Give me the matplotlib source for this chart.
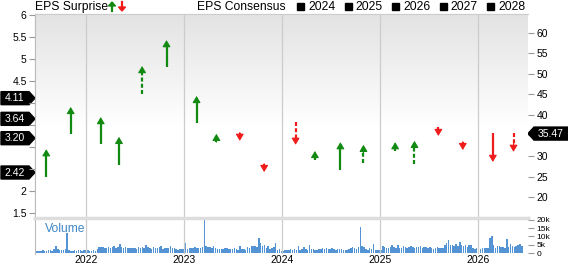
import pandas as pd
import numpy as np
import matplotlib
matplotlib.use('Agg')
import matplotlib.pyplot as plt
from matplotlib.patches import Polygon, Rectangle
from matplotlib.transforms import blended_transform_factory

plt.rcParams['font.family'] = ['Liberation Sans', 'DejaVu Sans']

# quarterly EPS reports: consensus -> actual
report_dates = ['2021-08-05', '2021-11-04', '2022-02-24', '2022-05-03', '2022-07-28',
                '2022-10-27', '2023-02-16', '2023-05-01', '2023-07-27', '2023-10-26',
                '2024-02-20', '2024-05-02', '2024-08-05', '2024-10-30', '2025-02-25',
                '2025-05-08', '2025-08-05', '2025-11-04', '2026-02-24', '2026-05-12']
eps_consensus = [2.32, 3.30, 3.07, 2.59, 4.20, 4.82, 3.55, 3.11, 3.32, 2.61,
                 3.57, 2.70, 2.48, 2.64, 2.91, 2.61, 3.45, 3.11, 3.32, 3.32]
eps_actual = [2.95, 3.91, 3.68, 3.23, 4.84, 5.43, 4.16, 3.30, 3.14, 2.43,
              3.05, 2.91, 3.11, 3.05, 3.11, 3.14, 3.25, 2.93, 2.66, 2.89]
eps_dashed = [0, 0, 0, 0, 1, 0, 0, 0, 0, 0, 1, 0, 0, 1, 0, 1, 0, 0, 0, 1]

# consensus tags (left) and last price tag (right)
consensus_tags = [4.11, 3.64, 3.20, 2.42]
last_price = 35.47
legend_years = ['2024', '2025', '2026', '2027', '2028']

# weekly volume in thousands, half-year chunks
vol_2021_h2 = [1.2, 1.5, 1.0, 1.3, 1.8, 1.4, 1.2, 1.6, 2.0, 1.5, 2.5, 4.0, 2.2,
               1.8, 2.0, 1.6, 2.2, 12.0, 2.0, 1.5, 1.3, 1.8, 1.4, 1.6, 2.0, 1.5]
vol_2022_h1 = [2.0, 1.6, 1.8, 1.2, 1.5, 1.8, 1.3, 2.5, 3.8, 3.5, 3.4, 3.0, 3.2,
               3.8, 3.0, 3.5, 4.5, 3.2, 3.6, 5.5, 3.5, 3.0, 3.8, 3.2, 3.0, 2.8]
vol_2022_h2 = [3.2, 3.0, 2.5, 3.5, 3.0, 3.6, 3.2, 4.8, 3.5, 3.0, 2.6, 3.5, 3.2,
               2.8, 3.6, 4.0, 2.5, 3.0, 3.2, 2.8, 4.0, 3.2, 3.0, 2.4, 2.0, 2.5]
vol_2023_h1 = [2.2, 2.4, 6.0, 2.4, 3.0, 3.2, 2.8, 3.6, 3.0, 2.8, 3.2, 3.4, 20.0,
               4.0, 3.6, 3.4, 3.2, 4.5, 2.8, 2.4, 2.5, 2.4, 2.6, 3.2, 2.8, 2.2]
vol_2023_h2 = [2.4, 2.6, 2.8, 2.4, 2.0, 4.0, 2.2, 2.4, 2.0, 3.5, 3.0, 4.2, 4.5,
               4.0, 3.8, 9.0, 6.0, 4.5, 5.0, 3.0, 4.2, 2.6, 3.0, 3.4, 6.0, 2.0]
vol_2024_h1 = [2.6, 1.5, 1.4, 1.6, 1.8, 2.0, 2.2, 2.0, 2.6, 2.0, 4.5, 2.0, 2.5,
               3.5, 2.2, 2.0, 4.8, 2.4, 2.2, 2.0, 1.8, 2.2, 2.6, 2.8, 2.2, 2.8]
vol_2024_h2 = [2.4, 2.2, 2.8, 2.2, 2.0, 2.4, 2.6, 2.2, 2.0, 1.8, 2.0, 2.4, 3.0,
               3.6, 3.2, 2.6, 3.4, 16.0, 4.2, 3.4, 2.4, 1.8, 2.8, 2.4, 5.2, 1.6]
vol_2025_h1 = [1.6, 1.8, 2.0, 4.0, 3.6, 3.2, 3.0, 3.4, 4.8, 3.4, 3.0, 4.6, 3.0,
               3.2, 4.4, 3.4, 3.0, 3.6, 4.2, 3.4, 3.0, 3.6, 3.4, 4.0, 3.2, 3.6]
vol_2025_h2 = [3.4, 3.0, 3.6, 3.2, 2.6, 3.0, 3.4, 3.2, 3.0, 2.8, 4.6, 5.8, 8.0,
               5.0, 4.8, 4.0, 5.2, 4.0, 6.6, 4.6, 4.2, 5.0, 3.8, 4.8, 5.0, 3.2]
vol_2026_h1 = [2.4, 3.0, 4.6, 2.6, 3.0, 3.0, 3.2, 2.8, 9.0, 10.6, 4.6, 3.2, 4.2,
               4.0, 3.6, 3.6, 3.0, 8.4, 3.6, 5.6, 4.0, 3.6, 4.2, 4.6, 5.6, 4.2]

GREEN = '#128a12'
RED = '#f01c1c'
GRID = '#cccccc'
W, H = 568, 264


def fx(px):
    return px / W


def fy(py):
    return 1 - py / H


volume = (vol_2021_h2 + vol_2022_h1 + vol_2022_h2 + vol_2023_h1 + vol_2023_h2 +
          vol_2024_h1 + vol_2024_h2 + vol_2025_h1 + vol_2025_h2 + vol_2026_h1)
vol_dates = pd.date_range('2021-06-25', periods=len(volume), freq='7D')
dates = pd.to_datetime(report_dates)
xlim = (pd.Timestamp('2021-06-24'), pd.Timestamp('2026-07-05'))
years = pd.to_datetime(['2022-01-01', '2023-01-01', '2024-01-01', '2025-01-01', '2026-01-01'])

fig = plt.figure(figsize=(W / 100, H / 100), dpi=100)
ax = fig.add_axes([fx(35), fy(218), fx(528) - fx(35), fy(14) - fy(218)])
axp = ax.twinx()
axv = fig.add_axes([fx(35), fy(254), fx(528) - fx(35), fy(218) - fy(254)])

# gradient background of the upper panel
grad = np.ones((100, 1, 3))
t = np.clip((np.linspace(1, 0, 100) - 0.45) / 0.55, 0, 1)
grad[:, 0, :] = (1 - 0.11 * t)[:, None]
ax.imshow(grad, extent=[0, 1, 0, 1], transform=ax.transAxes, aspect='auto', zorder=0)

# EPS axis (left); labels under the tags are left empty
ax.set_ylim(1.386, 6.023)
ax.set_yticks([1.5, 2, 2.5, 3, 3.5, 4, 4.5, 5, 5.5, 6])
ax.set_yticklabels(['1.5', '2', '', '', '', '', '4.5', '5', '5.5', '6'])
ax.tick_params(axis='y', length=4, width=0.8, color='#999999', labelsize=7.5, pad=2)
ax.set_xlim(xlim)
ax.set_xticks(years)
ax.tick_params(axis='x', length=0, labelbottom=False)
ax.grid(axis='x', color=GRID, lw=0.9)

# price axis (right), horizontal grid follows it
axp.set_ylim(14.88, 64.63)
axp.set_yticks([20, 25, 30, 35, 40, 45, 50, 55, 60])
axp.set_yticklabels(['20', '25', '30', '', '40', '45', '50', '55', '60'])
axp.tick_params(axis='y', length=4, width=0.8, color='#999999', labelsize=7.5, pad=2)
axp.grid(axis='y', color=GRID, lw=0.9)
axp.set_axisbelow(True)
ax.set_zorder(axp.get_zorder() + 1)
ax.patch.set_visible(False)
axp.text(0.985, 0.93, 'Price ($)', transform=axp.transAxes, ha='right', va='center', fontsize=7)

for a in (ax, axp):
    a.spines['right'].set_visible(False)
    a.spines['top'].set_color(GRID)
    a.spines['left'].set_color('#bbbbbb')
    a.spines['bottom'].set_color('#dddddd')
    a.spines['bottom'].set_linewidth(2.5)

# surprise arrows
for d, c0, c1, dashed in zip(dates, eps_consensus, eps_actual, eps_dashed):
    up = c1 >= c0
    color = GREEN if up else RED
    sign = 1 if up else -1
    ax.plot([d, d], [c0, c1 - sign * 0.06], color=color, lw=1.6,
            ls=(0, (1.8, 1.0)) if dashed else '-', solid_capstyle='butt', zorder=3)
    ax.annotate('', xy=(d, c1), xytext=(0, -sign * 6), textcoords='offset points',
                arrowprops=dict(arrowstyle='-|>,head_length=0.4,head_width=0.24',
                                color=color, lw=0.8, shrinkA=0, shrinkB=0, mutation_scale=10),
                zorder=4)

# volume panel
axv.bar(vol_dates, volume, width=5.5, color='#5594d4', linewidth=0)
axv.set_xlim(xlim)
axv.set_ylim(-0.6, 21.2)
axv.set_xticks(years)
axv.set_xticklabels([str(y.year) for y in years])
axv.tick_params(axis='x', length=0, labelsize=7.5, pad=1)
axv.grid(axis='x', color=GRID, lw=0.9)
axv.yaxis.tick_right()
axv.set_yticks([0, 5, 10, 15, 20])
axv.set_yticklabels(['0', '5k', '10k', '15k', '20k'])
axv.tick_params(axis='y', length=4, width=0.8, color='#999999', labelsize=6, pad=2)
for s in ('top', 'right', 'bottom'):
    axv.spines[s].set_visible(False)
axv.spines['left'].set_color('#bbbbbb')
axv.text(0.02, 0.69, 'Volume', transform=axv.transAxes, ha='left', va='center',
         fontsize=8.7, color='#3f87c6')

# consensus tags on the left
tag_tr = blended_transform_factory(fig.transFigure, ax.transData)
hh = 6.5 * (6.023 - 1.386) / 204
for v in consensus_tags:
    pts = [(fx(1), v - hh), (fx(29), v - hh), (fx(35), v), (fx(29), v + hh), (fx(1), v + hh)]
    fig.add_artist(Polygon(pts, closed=True, color='black', transform=tag_tr))
    fig.text(fx(15), v, f'{v:.2f}', transform=tag_tr, ha='center', va='center',
             color='white', fontsize=7.5)

# last price tag on the right
ptr = blended_transform_factory(fig.transFigure, axp.transData)
ph = 6.5 * (64.63 - 14.88) / 204
pts = [(fx(528), last_price), (fx(534), last_price - ph), (fx(568), last_price - ph),
       (fx(568), last_price + ph), (fx(534), last_price + ph)]
fig.add_artist(Polygon(pts, closed=True, color='black', transform=ptr))
fig.text(fx(551), last_price, f'{last_price:.2f}', transform=ptr, ha='center', va='center',
         color='white', fontsize=7.5)

# header
fig.text(fx(35), fy(7), 'EPS Surprise', ha='left', va='center', fontsize=8.7)
fig.add_artist(plt.Line2D([fx(112), fx(112)], [fy(11), fy(6)], color=GREEN, lw=1.6))
fig.add_artist(Polygon([(fx(108.5), fy(6)), (fx(115.5), fy(6)), (fx(112), fy(2))],
                       closed=True, color=GREEN))
fig.add_artist(plt.Line2D([fx(122), fx(122)], [fy(2), fy(7)], color=RED, lw=1.6))
fig.add_artist(Polygon([(fx(118.5), fy(7)), (fx(125.5), fy(7)), (fx(122), fy(11))],
                       closed=True, color=RED))
fig.text(fx(197), fy(7), 'EPS Consensus', ha='left', va='center', fontsize=8.7)
for i, yr in enumerate(legend_years):
    x0 = 297 + i * 47.5
    fig.add_artist(Rectangle((fx(x0), fy(10)), fx(7), 7 / H, color='black'))
    fig.text(fx(x0 + 11), fy(7), yr, ha='left', va='center', fontsize=8.7)

fig.savefig('out.png', dpi=100)
